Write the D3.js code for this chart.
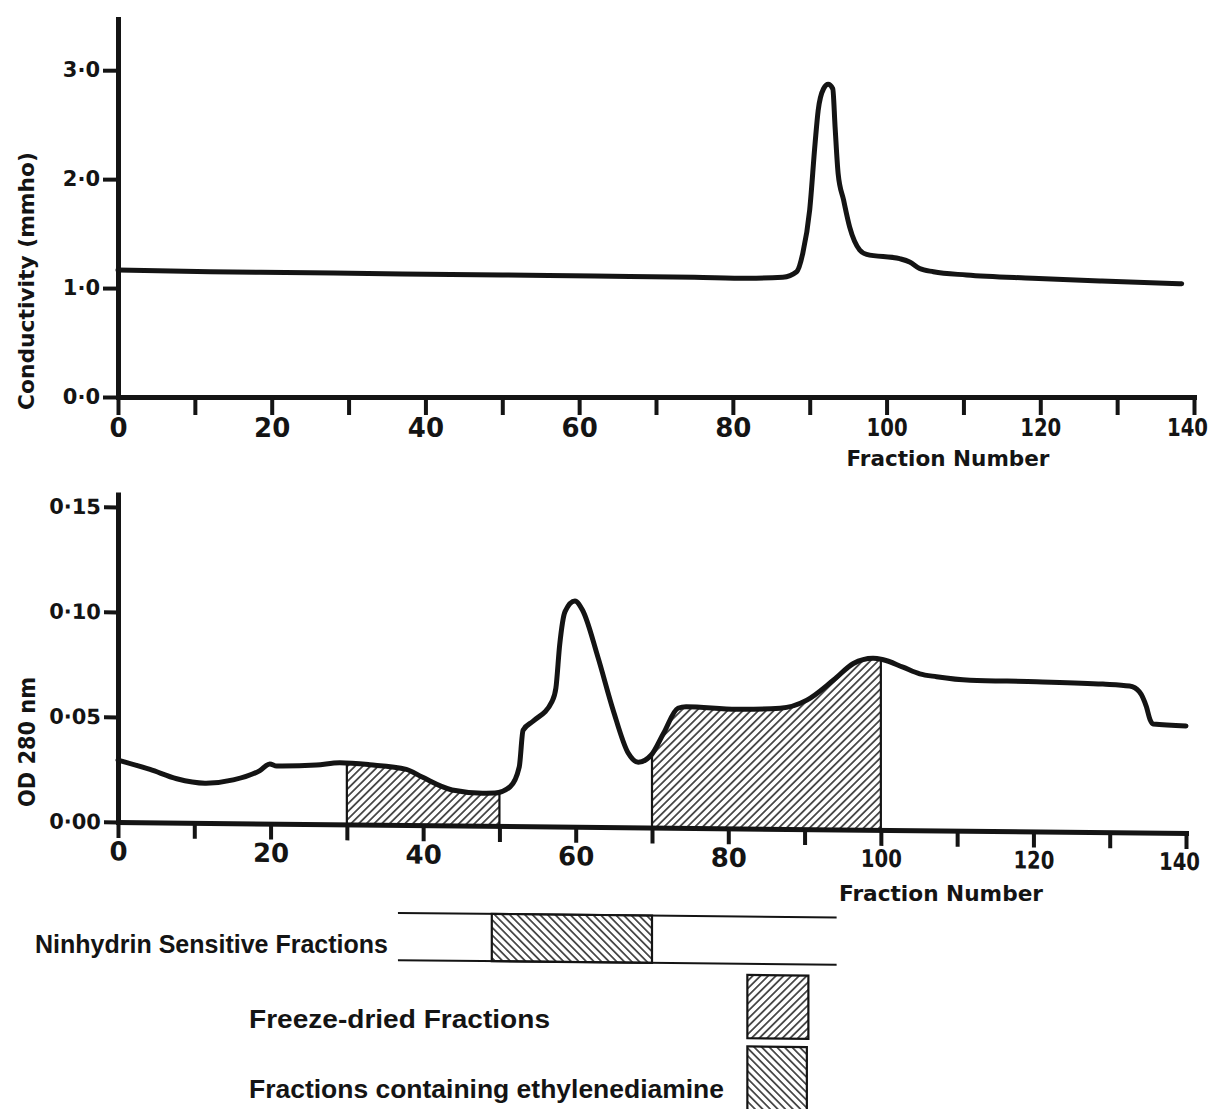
<!DOCTYPE html>
<html>
<head>
<meta charset="utf-8">
<script src="https://cdn.jsdelivr.net/npm/d3@7"></script>
<style>
  html, body { margin: 0; padding: 0; background: #fff; }
  svg { display: block; }
</style>
</head>
<body>
<svg id="chart"></svg>
<script>
// conductivity trace (top panel)
const condFraction = [0, 12, 25, 37, 50, 62, 75, 82, 86.5, 88.3, 89.1, 90, 90.7, 91.1, 91.8, 92.4, 93, 93.3, 93.7, 94.4, 95.2, 96.5, 97.4, 101.7, 103, 104.3, 106.1, 110.4, 119, 128, 138.4];
const condValue = [1.165, 1.15, 1.14, 1.13, 1.12, 1.11, 1.10, 1.09, 1.10, 1.15, 1.32, 1.72, 2.33, 2.63, 2.83, 2.87, 2.83, 2.48, 2.05, 1.81, 1.56, 1.35, 1.31, 1.27, 1.24, 1.18, 1.15, 1.12, 1.09, 1.065, 1.04];

// OD 280 nm trace (bottom panel)
const odFraction = [0, 4.2, 7.7, 11.4, 15.1, 18.6, 19.9, 20.8, 26, 29.1, 33, 37.8, 39.8, 43.8, 47.8, 49.4, 51.4, 52.6, 53.1, 54.4, 56.9, 57.4, 57.9, 58.6, 59.9, 60.9, 62.9, 64.9, 66.9, 68.2, 69.9, 71.5, 73.4, 74.5, 81.1, 86.8, 90.3, 93.8, 96.4, 99, 100.2, 102.9, 105.1, 107.3, 111.7, 120.4, 129.1, 132.6, 133.9, 134.8, 135.3, 135.7, 140];
const odValue = [0.0295, 0.0252, 0.0209, 0.0189, 0.0206, 0.0252, 0.0284, 0.0274, 0.0281, 0.0293, 0.0285, 0.0265, 0.0230, 0.0169, 0.0155, 0.0156, 0.0187, 0.0282, 0.0457, 0.0500, 0.0596, 0.0659, 0.0866, 0.1024, 0.1075, 0.1031, 0.0810, 0.0558, 0.0352, 0.0310, 0.0345, 0.0448, 0.0569, 0.0577, 0.0567, 0.0574, 0.0614, 0.0711, 0.0791, 0.0817, 0.0811, 0.0776, 0.0745, 0.0732, 0.0717, 0.0713, 0.0705, 0.0697, 0.0670, 0.0600, 0.0537, 0.0517, 0.0510];

// shaded fraction ranges under the OD curve
const hatchedRanges = [[30, 50], [70, 100]];

// legend bars, in fraction units
const bandRange = [36.7, 94.2];
const ninhydrinRange = [49, 70];
const freezeDriedRange = [82.5, 90.5];
const ethylenediamineRange = [82.5, 90.3];

// tick values / labels
const xTicks = d3.range(0, 141, 10);
const condTicks = [0, 1, 2, 3];
const odTicks = [0, 0.05, 0.10, 0.15];
const xTitle = "Fraction Number";
const condTitle = "Conductivity (mmho)";
const odTitle = "OD 280 nm";
const legendLabels = ["Ninhydrin Sensitive Fractions", "Freeze-dried Fractions", "Fractions containing ethylenediamine"];

const width = 1219, height = 1109;
const ink = "#141414";
const tickFont = "'DejaVu Sans', sans-serif";
const textFont = "'Liberation Sans', Arial, sans-serif";

const svg = d3.select("#chart").attr("width", width).attr("height", height)
  .attr("viewBox", [0, 0, width, height]);

svg.append("rect").attr("width", width).attr("height", height).attr("fill", "#fff");

// hatch patterns
const defs = svg.append("defs");
function makeHatch(id, angle, gap, sw) {
  const p = defs.append("pattern")
    .attr("id", id)
    .attr("patternUnits", "userSpaceOnUse")
    .attr("width", gap).attr("height", gap)
    .attr("patternTransform", `rotate(${angle})`);
  p.append("line")
    .attr("x1", gap / 2).attr("x2", gap / 2)
    .attr("y1", -1).attr("y2", gap + 1)
    .attr("stroke", ink).attr("stroke-width", sw);
}
makeHatch("hatch-fwd", 45, 5.4, 1.4);
makeHatch("hatch-back", -45, 5.4, 1.4);

const dot = (p) => (d) => d3.format(`.${p}f`)(d).replace(".", "·");

function styleAxis(g, size) {
  g.attr("font-family", tickFont).attr("font-weight", "bold").attr("font-size", size);
  g.select(".domain").attr("stroke", ink).attr("stroke-width", 5).attr("stroke-linecap", "square");
  g.selectAll(".tick line").attr("stroke", ink).attr("stroke-width", 4);
  g.selectAll(".tick text").attr("fill", ink);
}

// three-digit fraction labels are set a bit tighter, like the original lettering;
// the last one is nudged in so it stays on the page
function tightenLabels(g) {
  g.selectAll(".tick text")
    .filter(function () { return this.textContent.length === 3; })
    .attr("font-size", 24)
    .attr("textLength", 41)
    .attr("lengthAdjust", "spacingAndGlyphs");
  g.selectAll(".tick text")
    .filter((d) => d === 140)
    .attr("dx", -7);
}

// ---------- top panel: conductivity ----------
const xTop = d3.scaleLinear().domain([0, 140]).range([118, 1194]);
const yTop = d3.scaleLinear().domain([0, 3.47]).range([397, 19]);

const topG = svg.append("g");

topG.append("g")
  .attr("transform", `translate(0,${yTop(0)})`)
  .call(d3.axisBottom(xTop).tickValues(xTicks).tickSize(18).tickSizeOuter(0).tickPadding(4)
    .tickFormat((d) => (d % 20 === 0 ? d : "")))
  .call(styleAxis, 26)
  .call(tightenLabels);

topG.append("g")
  .attr("transform", `translate(${xTop(0)},0)`)
  .call(d3.axisLeft(yTop).tickValues(condTicks).tickSize(15).tickSizeOuter(0).tickPadding(3)
    .tickFormat(dot(1)))
  .call(styleAxis, 21);

const condData = condFraction.map((f, i) => ({ f, v: condValue[i] }));
topG.append("path")
  .datum(condData)
  .attr("fill", "none")
  .attr("stroke", ink)
  .attr("stroke-width", 5)
  .attr("stroke-linejoin", "round")
  .attr("stroke-linecap", "round")
  .attr("d", d3.line().x((d) => xTop(d.f)).y((d) => yTop(d.v)).curve(d3.curveMonotoneX));

// ---------- bottom panel: OD 280 ----------
const xBot = d3.scaleLinear().domain([0, 140]).range([118, 1186]);
const yBot = d3.scaleLinear().domain([0, 0.156]).range([822, 494.4]);

// the scanned page is slightly tilted: horizontal lines drop to the right
const botG = svg.append("g")
  .attr("transform", `translate(118,822) skewY(0.59) translate(-118,-822)`);

const odData = odFraction.map((f, i) => ({ f, v: odValue[i] }));
const odLine = d3.line().x((d) => xBot(d.f)).y((d) => yBot(d.v)).curve(d3.curveMonotoneX);
const odArea = d3.area().x((d) => xBot(d.f)).y0(yBot(0)).y1((d) => yBot(d.v)).curve(d3.curveMonotoneX);

defs.append("clipPath").attr("id", "under-od")
  .append("path").attr("d", odArea(odData));

const hatchG = botG.append("g").attr("clip-path", "url(#under-od)");
hatchG.selectAll("rect")
  .data(hatchedRanges)
  .join("rect")
  .attr("x", (d) => xBot(d[0]))
  .attr("width", (d) => xBot(d[1]) - xBot(d[0]))
  .attr("y", yBot.range()[1])
  .attr("height", yBot(0) - yBot.range()[1])
  .attr("fill", "url(#hatch-fwd)");
hatchG.selectAll("line")
  .data(hatchedRanges.flat())
  .join("line")
  .attr("x1", (d) => xBot(d)).attr("x2", (d) => xBot(d))
  .attr("y1", yBot(0)).attr("y2", yBot.range()[1])
  .attr("stroke", ink).attr("stroke-width", 2.2);

botG.append("g")
  .attr("transform", `translate(0,${yBot(0)})`)
  .call(d3.axisBottom(xBot).tickValues(xTicks).tickSize(16).tickSizeOuter(0).tickPadding(4)
    .tickFormat((d) => (d % 20 === 0 ? d : "")))
  .call(styleAxis, 26)
  .call(tightenLabels);

botG.append("g")
  .attr("transform", `translate(${xBot(0)},0)`)
  .call(d3.axisLeft(yBot).tickValues(odTicks).tickSize(14).tickSizeOuter(0).tickPadding(3)
    .tickFormat(dot(2)))
  .call(styleAxis, 21);

botG.append("path")
  .datum(odData)
  .attr("fill", "none")
  .attr("stroke", ink)
  .attr("stroke-width", 5)
  .attr("stroke-linejoin", "round")
  .attr("stroke-linecap", "round")
  .attr("d", odLine);

// ---------- legend bars (same fraction scale as the OD panel) ----------
const band = { top: 910, bottom: 957.3 };
botG.selectAll("line.band")
  .data([band.top, band.bottom])
  .join("line")
  .attr("class", "band")
  .attr("x1", xBot(bandRange[0])).attr("x2", xBot(bandRange[1]))
  .attr("y1", (d) => d).attr("y2", (d) => d)
  .attr("stroke", ink).attr("stroke-width", 2);

const legendBoxes = [
  { range: ninhydrinRange, y0: band.top, y1: band.bottom, fill: "url(#hatch-back)" },
  { range: freezeDriedRange, y0: 968.5, y1: 1031.8, fill: "url(#hatch-fwd)" },
  { range: ethylenediamineRange, y0: 1040, y1: 1118, fill: "url(#hatch-back)" },
];
botG.selectAll("rect.legend-box")
  .data(legendBoxes)
  .join("rect")
  .attr("class", "legend-box")
  .attr("x", (d) => xBot(d.range[0]))
  .attr("width", (d) => xBot(d.range[1]) - xBot(d.range[0]))
  .attr("y", (d) => d.y0)
  .attr("height", (d) => d.y1 - d.y0)
  .attr("fill", (d) => d.fill)
  .attr("stroke", ink).attr("stroke-width", 2.2);

// ---------- titles ----------
function title(sel, x, y, text, size, len, rotate) {
  sel.append("text")
    .attr("transform", `translate(${x},${y})` + (rotate ? " rotate(-90)" : ""))
    .attr("text-anchor", "middle")
    .attr("font-family", tickFont)
    .attr("font-weight", "bold")
    .attr("font-size", size)
    .attr("fill", ink)
    .attr("textLength", len)
    .attr("lengthAdjust", "spacingAndGlyphs")
    .text(text);
}
title(svg, 948, 466, xTitle, 21, 203);
title(svg, 941, 901, xTitle, 22, 204);
title(svg, 34, 281, condTitle, 22, 258, true);
title(svg, 35, 742, odTitle, 23, 130, true);

const legendText = [
  { x: 35, y: 953, size: 26, len: 353 },
  { x: 249, y: 1028, size: 25, len: 301 },
  { x: 249, y: 1098, size: 25, len: 475 },
];
svg.selectAll("text.legend-label")
  .data(legendText)
  .join("text")
  .attr("class", "legend-label")
  .attr("x", (d) => d.x)
  .attr("y", (d) => d.y)
  .attr("font-family", textFont)
  .attr("font-weight", "bold")
  .attr("font-size", (d) => d.size)
  .attr("fill", ink)
  .attr("textLength", (d) => d.len)
  .attr("lengthAdjust", "spacingAndGlyphs")
  .text((d, i) => legendLabels[i]);
</script>
</body>
</html>
